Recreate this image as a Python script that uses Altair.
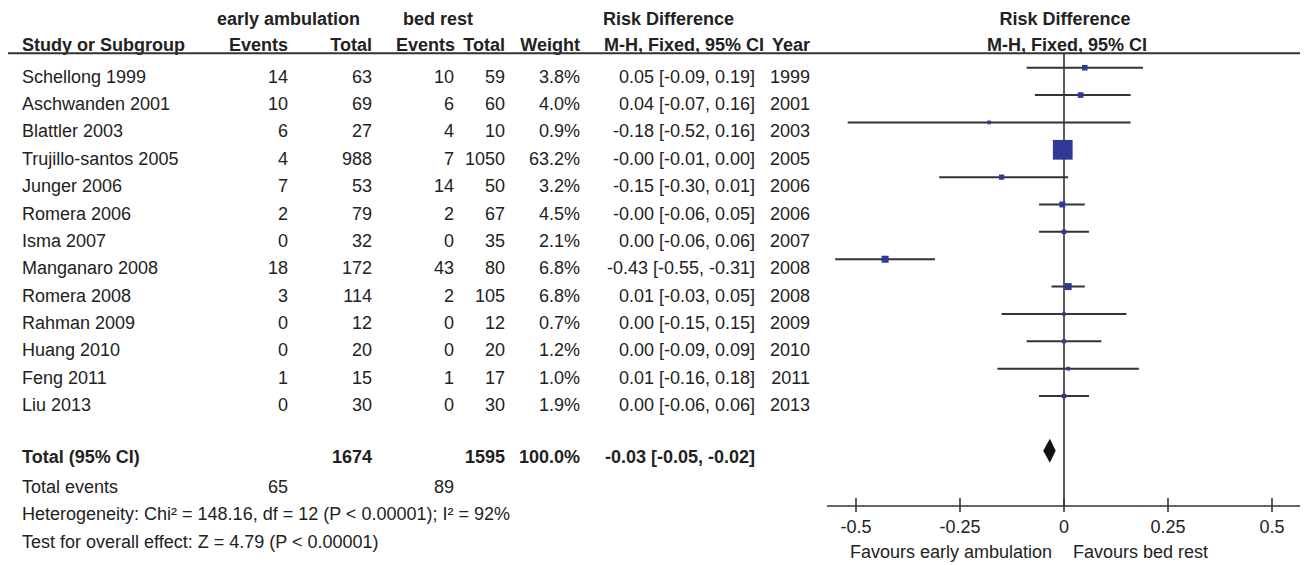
import altair as alt
import pandas as pd

# ---------------- data ----------------
studies = ["Schellong 1999", "Aschwanden 2001", "Blattler 2003", "Trujillo-santos 2005",
           "Junger 2006", "Romera 2006", "Isma 2007", "Manganaro 2008", "Romera 2008",
           "Rahman 2009", "Huang 2010", "Feng 2011", "Liu 2013"]
ea_events = [14, 10, 6, 4, 7, 2, 0, 18, 3, 0, 0, 1, 0]
ea_total = [63, 69, 27, 988, 53, 79, 32, 172, 114, 12, 20, 15, 30]
br_events = [10, 6, 4, 7, 14, 2, 0, 43, 2, 0, 0, 1, 0]
br_total = [59, 60, 10, 1050, 50, 67, 35, 80, 105, 12, 20, 17, 30]
weights = [3.8, 4.0, 0.9, 63.2, 3.2, 4.5, 2.1, 6.8, 6.8, 0.7, 1.2, 1.0, 1.9]
rd_est = [0.05, 0.04, -0.18, -0.003, -0.15, -0.004, 0.00, -0.43, 0.01, 0.00, 0.00, 0.01, 0.00]
rd_lo = [-0.09, -0.07, -0.52, -0.01, -0.30, -0.06, -0.06, -0.55, -0.03, -0.15, -0.09, -0.16, -0.06]
rd_hi = [0.19, 0.16, 0.16, 0.00, 0.01, 0.05, 0.06, -0.31, 0.05, 0.15, 0.09, 0.18, 0.06]
years = [1999, 2001, 2003, 2005, 2006, 2006, 2007, 2008, 2008, 2009, 2010, 2011, 2013]

total_ea, total_br = 1674, 1595
events_ea, events_br = 65, 89
total_est, total_lo, total_hi = -0.034, -0.05, -0.02
total_weight = "100.0%"
heterogeneity = "Heterogeneity: Chi² = 148.16, df = 12 (P < 0.00001); I² = 92%"
overall = "Test for overall effect: Z = 4.79 (P < 0.00001)"
tick_values = [-0.5, -0.25, 0, 0.25, 0.5]
tick_labels = ["-0.5", "-0.25", "0", "0.25", "0.5"]

# ---------------- tables ----------------
df = pd.DataFrame({
    "row": list(range(len(studies))),
    "study": studies,
    "e1": [str(v) for v in ea_events],
    "t1": [str(v) for v in ea_total],
    "e2": [str(v) for v in br_events],
    "t2": [str(v) for v in br_total],
    "weight": weights,
    "wtxt": [f"{w:.1f}%" for w in weights],
    "est": rd_est,
    "lo": rd_lo,
    "hi": rd_hi,
    "ci": [f"{e:.2f} [{l:.2f}, {h:.2f}]" for e, l, h in zip(rd_est, rd_lo, rd_hi)],
    "year": [str(y) for y in years],
})

FONT = "Liberation Sans"
TXT = "#222222"
LINE = "#333333"
FS = 18
DY = 10

ys = alt.Scale(domain=[0, 12], range=[59.7, 388.02], nice=False, zero=False)
xs = alt.Scale(domain=[-0.5, 0.5], range=[848, 1264], nice=False, zero=False)


def col(field, x, align, bold=False):
    return alt.Chart(df).mark_text(
        align=align, baseline="middle", dy=DY, font=FONT, fontSize=FS,
        fontWeight="bold" if bold else "normal", color=TXT
    ).encode(x=alt.value(x), y=alt.Y("row:Q", scale=ys, axis=None), text=f"{field}:N")


def label(text, row, x, align, bold=False):
    d = pd.DataFrame({"row": [row], "t": [text]})
    return alt.Chart(d).mark_text(
        align=align, baseline="middle", dy=DY, font=FONT, fontSize=FS,
        fontWeight="bold" if bold else "normal", color=TXT
    ).encode(x=alt.value(x), y=alt.Y("row:Q", scale=ys, axis=None), text="t:N")


H1, H2 = -2.124, -1.15
layers = []

# headers
layers += [
    label("early ambulation", H1, 209, "left", True),
    label("bed rest", H1, 395, "left", True),
    label("Risk Difference", H1, 595, "left", True),
    label("Risk Difference", H1, 1057, "center", True),
    label("Study or Subgroup", H2, 14, "left", True),
    label("Events", H2, 280, "right", True),
    label("Total", H2, 364, "right", True),
    label("Events", H2, 447, "right", True),
    label("Total", H2, 497, "right", True),
    label("Weight", H2, 572, "right", True),
    label("M-H, Fixed, 95% CI", H2, 596, "left", True),
    label("Year", H2, 802, "right", True),
    label("M-H, Fixed, 95% CI", H2, 1059, "center", True),
]

# study rows
layers += [
    col("study", 14, "left"),
    col("e1", 280, "right"),
    col("t1", 364, "right"),
    col("e2", 446, "right"),
    col("t2", 497, "right"),
    col("wtxt", 572, "right"),
    col("ci", 747, "right"),
    col("year", 802, "right"),
]

# totals and footer
TR = 13.9
layers += [
    label("Total (95% CI)", TR, 14, "left", True),
    label(str(total_ea), TR, 364, "right", True),
    label(str(total_br), TR, 497, "right", True),
    label(total_weight, TR, 572, "right", True),
    label(f"{total_est:.2f} [{total_lo:.2f}, {total_hi:.2f}]", TR, 747, "right", True),
    label("Total events", 15, 14, "left"),
    label(str(events_ea), 15, 280, "right"),
    label(str(events_br), 15, 446, "right"),
    label(heterogeneity, 16, 14, "left"),
    label(overall, 17, 14, "left"),
]

# header separator line
sep = pd.DataFrame({"row": [-0.53]})
layers.append(alt.Chart(sep).mark_rule(color=LINE, strokeWidth=2).encode(
    x=alt.value(0), x2=alt.value(1292), y=alt.Y("row:Q", scale=ys, axis=None)))

# zero line
zl = pd.DataFrame({"x": [0.0], "r1": [-0.53], "r2": [16.02]})
layers.append(alt.Chart(zl).mark_rule(color=LINE, strokeWidth=1.6).encode(
    x=alt.X("x:Q", scale=xs, axis=None),
    y=alt.Y("r1:Q", scale=ys, axis=None), y2="r2:Q"))

# confidence interval lines
layers.append(alt.Chart(df).mark_rule(color=LINE, strokeWidth=2).encode(
    x=alt.X("lo:Q", scale=xs, axis=None), x2="hi:Q",
    y=alt.Y("row:Q", scale=ys, axis=None)))

# weighted squares
layers.append(alt.Chart(df).mark_square(color="#2E3A96", opacity=1).encode(
    x=alt.X("est:Q", scale=xs, axis=None),
    y=alt.Y("row:Q", scale=ys, axis=None),
    size=alt.Size("weight:Q", scale=alt.Scale(domain=[0, 63.2], range=[8, 390]), legend=None)))

# pooled diamond
dia = pd.DataFrame({"x": [total_lo, total_est, total_hi],
                    "y": [14.0, 13.56, 14.0], "y2": [14.0, 14.44, 14.0]})
layers.append(alt.Chart(dia).mark_area(orient="vertical", color="#111111", opacity=1).encode(
    x=alt.X("x:Q", scale=xs, axis=None),
    y=alt.Y("y:Q", scale=ys, axis=None), y2="y2:Q"))

# x axis drawn by hand
ax = pd.DataFrame({"r": [16.02]})
layers.append(alt.Chart(ax).mark_rule(color=LINE, strokeWidth=1.6).encode(
    x=alt.value(819), x2=alt.value(1294), y=alt.Y("r:Q", scale=ys, axis=None)))
ticks = pd.DataFrame({"v": tick_values, "lab": tick_labels, "r1": [15.73] * 5, "r2": [16.24] * 5,
                      "rl": [16.47] * 5})
layers.append(alt.Chart(ticks).mark_rule(color=LINE, strokeWidth=1.6).encode(
    x=alt.X("v:Q", scale=xs, axis=None),
    y=alt.Y("r1:Q", scale=ys, axis=None), y2="r2:Q"))
layers.append(alt.Chart(ticks).mark_text(
    align="center", baseline="middle", dy=DY, font=FONT, fontSize=FS, color=TXT).encode(
    x=alt.X("v:Q", scale=xs, axis=None),
    y=alt.Y("rl:Q", scale=ys, axis=None), text="lab:N"))
layers += [
    label("Favours early ambulation", 17.36, 1044, "right"),
    label("Favours bed rest", 17.36, 1065, "left"),
]

chart = alt.layer(*layers).properties(
    width=1292, height=557, padding=0,
    autosize=alt.AutoSizeParams(type="none"),
    background="white",
).configure_view(stroke=None)

chart.save("out.html", embed_options={"renderer": "svg", "actions": False})
